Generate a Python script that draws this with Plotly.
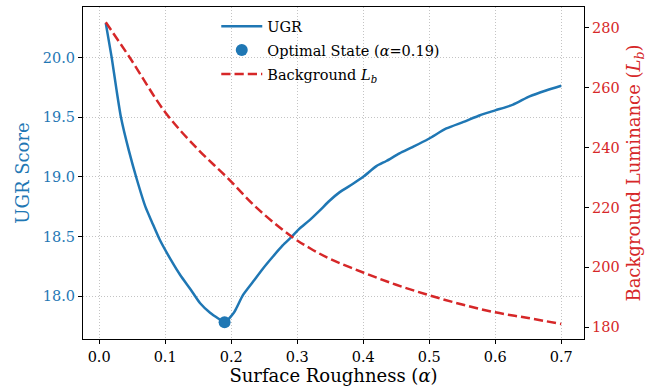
import plotly.graph_objects as go

# ---- data ----
alpha_ugr = [0.010, 0.019, 0.026, 0.033, 0.045, 0.057, 0.070, 0.080, 0.092, 0.108,
             0.123, 0.138, 0.153, 0.168, 0.181, 0.190, 0.204, 0.208, 0.218, 0.233,
             0.248, 0.263, 0.278, 0.291, 0.303, 0.318, 0.334, 0.349, 0.364, 0.384,
             0.400, 0.420, 0.435, 0.455, 0.476, 0.500, 0.526, 0.552, 0.577, 0.600,
             0.627, 0.652, 0.677, 0.700]
ugr_score = [20.29, 20.00, 19.74, 19.50, 19.22, 18.98, 18.75, 18.62, 18.47, 18.31,
             18.175, 18.06, 17.94, 17.86, 17.81, 17.78, 17.86, 17.90, 18.01, 18.12,
             18.23, 18.33, 18.425, 18.494, 18.564, 18.633, 18.717, 18.80, 18.87, 18.94,
             19.00, 19.09, 19.133, 19.197, 19.253, 19.322, 19.406, 19.461, 19.517, 19.558,
             19.606, 19.675, 19.725, 19.764]

alpha_lb = [0.010, 0.047, 0.100, 0.150, 0.1934, 0.240, 0.292, 0.320, 0.350, 0.400,
            0.450, 0.500, 0.550, 0.600, 0.650, 0.700]
lb_values = [281.8, 269.8, 251.8, 239.3, 230.1, 219.6, 210.2, 206.3, 202.8, 198.3,
             194.2, 190.7, 187.6, 185.0, 183.1, 181.1]

opt_alpha = [0.19]
opt_ugr = [17.78]

x_ticks = [0.0, 0.1, 0.2, 0.3, 0.4, 0.5, 0.6, 0.7]
ugr_ticks = [18.0, 18.5, 19.0, 19.5, 20.0]
lb_ticks = [180, 200, 220, 240, 260, 280]

BLUE = "#1f77b4"
RED = "#d62728"
FONT = "DejaVu Serif"

fig = go.Figure()
fig.add_trace(go.Scatter(
    x=alpha_ugr, y=ugr_score, mode="lines", name="UGR",
    line=dict(color=BLUE, width=2.5, shape="spline", smoothing=0.6),
    legendgroup="a", yaxis="y"))
fig.add_trace(go.Scatter(
    x=opt_alpha, y=opt_ugr, mode="markers",
    name="Optimal State (<i>α</i>=0.19)",
    marker=dict(color=BLUE, size=12), legendgroup="b", yaxis="y"))
fig.add_trace(go.Scatter(
    x=alpha_lb, y=lb_values, mode="lines", name="Background <i>L</i><sub><i>b</i></sub>",
    line=dict(color=RED, width=2.5, dash="9.25px,4px", shape="spline"),
    legendgroup="c", yaxis="y2"))

axis_common = dict(showline=True, linecolor="black", linewidth=1.2,
                   ticks="outside", ticklen=4, tickwidth=1, tickcolor="black",
                   zeroline=False)
grid = dict(showgrid=True, gridcolor="#c4c4c4", gridwidth=0.8, griddash="1px,2px")

fig.update_layout(
    width=653, height=391,
    margin=dict(l=83, r=69, t=7, b=52),
    paper_bgcolor="white", plot_bgcolor="white",
    font=dict(family=FONT, size=14.5, color="black"),
    showlegend=True,
    legend=dict(x=0.266, y=0.99, xanchor="left", yanchor="top",
                bgcolor="rgba(255,255,255,0)", font=dict(size=14.5, family=FONT),
                traceorder="grouped", tracegroupgap=2, itemwidth=41),
    xaxis=dict(range=[-0.0245, 0.7345], tickvals=x_ticks, tickformat=".1f",
               mirror=True,
               title=dict(text="Surface Roughness (<i>α</i>)", font=dict(size=18),
                          standoff=5),
               **grid, **axis_common),
    yaxis=dict(range=[17.64, 20.425], tickvals=ugr_ticks, tickformat=".1f",
               tickfont=dict(color=BLUE),
               title=dict(text="UGR Score", font=dict(size=18, color=BLUE), standoff=8),
               **grid, **axis_common),
    yaxis2=dict(range=[176.1, 286.9], tickvals=lb_ticks, overlaying="y", side="right",
                showgrid=False, tickfont=dict(color=RED),
                title=dict(text="Background Luminance (<i>L</i><sub><i>b</i></sub>)",
                           font=dict(size=18, color=RED), standoff=8),
                **axis_common),
)

fig.write_html("out.html", config={"displayModeBar": False},
               post_script="document.body.style.margin='0px';")
